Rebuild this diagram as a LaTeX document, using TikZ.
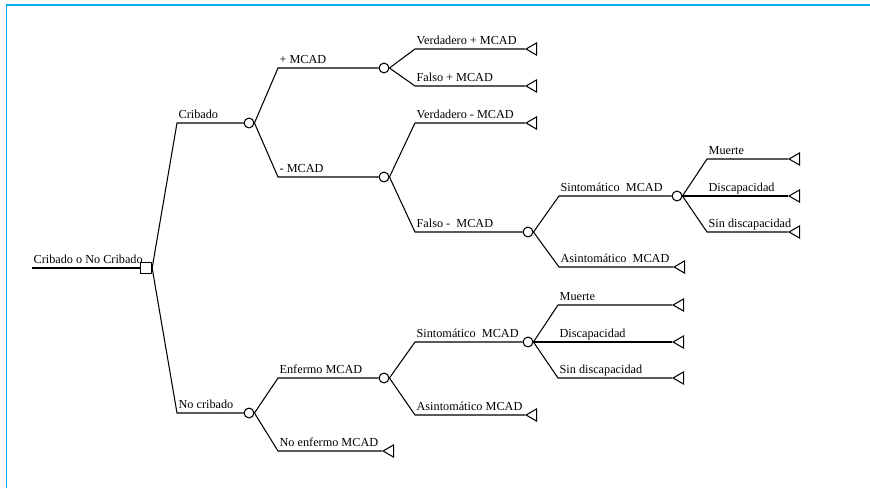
\documentclass[tikz,border=0pt]{standalone}
\usepackage{fontspec}
\setmainfont{Liberation Serif}
\usetikzlibrary{shapes.geometric}
\definecolor{frameblue}{RGB}{0,174,239}

\begin{document}
\begin{tikzpicture}[x=0.025cm, y=-0.025cm, line width=0.75pt,
    chance/.style={circle, draw, fill=white, inner sep=0pt, minimum size=7pt},
    decision/.style={rectangle, draw, fill=white, inner sep=0pt, minimum width=8pt, minimum height=7.2pt},
    terminal/.style={isosceles triangle, shape border rotate=180, draw, inner sep=0pt,
                     isosceles triangle apex angle=60, minimum size=7.5pt, anchor=apex},
    lbl/.style={anchor=base west, inner sep=0pt, xshift=0.8pt, yshift=3.4pt,
                font=\fontsize{8.7}{10}\selectfont}]
      \useasboundingbox (0,0) rectangle (870,488);

      % Draw the frame
      \draw[frameblue, line width=1.1pt] (6.5,488) -- (6.5,5) -- (870,5);

      % Decision and chance nodes
      \coordinate (start) at (32,268);
      \node[decision] (dec) at (146,268) {};
      \node[chance] (cC) at (249,123) {};
      \node[chance] (cN) at (249,413) {};
      \node[chance] (cP) at (384,68) {};
      \node[chance] (cM) at (384,177) {};
      \node[chance] (cFM) at (528,232) {};
      \node[chance] (cS1) at (677,196) {};
      \node[chance] (cE) at (384,378) {};
      \node[chance] (cS2) at (528,342) {};

      % Terminal nodes
      \node[terminal] (tVP) at (525,49) {};
      \node[terminal] (tFP) at (525,86) {};
      \node[terminal] (tVM) at (525,123) {};
      \node[terminal] (tA1) at (673,267) {};
      \node[terminal] (tM1) at (788,159) {};
      \node[terminal] (tD1) at (788,196) {};
      \node[terminal] (tS1) at (788,232) {};
      \node[terminal] (tNE) at (382,451) {};
      \node[terminal] (tA2) at (525,415) {};
      \node[terminal] (tM2) at (672,305) {};
      \node[terminal] (tD2) at (672,342) {};
      \node[terminal] (tS2) at (672,378) {};

      % Root branch
      \draw (start) node[lbl] {Cribado o No Cribado} -- (dec);
      \draw (dec.east) -- (177,123) node[lbl] {Cribado} -- (cC);
      \draw (dec.east) -- (177,413) node[lbl] {No cribado} -- (cN);

      % Cribado
      \draw (cC.east) -- (278,68) node[lbl] {+ MCAD} -- (cP);
      \draw (cC.east) -- (278,177) node[lbl] {- MCAD} -- (cM);
      \draw (cP.east) -- (415,49) node[lbl] {Verdadero + MCAD} -- (tVP);
      \draw (cP.east) -- (415,86) node[lbl] {Falso + MCAD} -- (tFP);
      \draw (cM.east) -- (415,123) node[lbl] {Verdadero - MCAD} -- (tVM);
      \draw (cM.east) -- (415,232) node[lbl] {Falso -\ \ MCAD} -- (cFM);
      \draw (cFM.east) -- (559,196) node[lbl] {Sintomático\ \ MCAD} -- (cS1);
      \draw (cFM.east) -- (559,267) node[lbl] {Asintomático\ \ MCAD} -- (tA1);
      \draw (cS1.east) -- (707,159) node[lbl] {Muerte} -- (tM1);
      \draw (cS1.east) -- (707,196) node[lbl] {Discapacidad} -- (tD1);
      \draw (cS1.east) -- (707,232) node[lbl] {Sin discapacidad} -- (tS1);

      % No cribado
      \draw (cN.east) -- (278,378) node[lbl] {Enfermo MCAD} -- (cE);
      \draw (cN.east) -- (278,451) node[lbl] {No enfermo MCAD} -- (tNE);
      \draw (cE.east) -- (415,342) node[lbl] {Sintomático\ \ MCAD} -- (cS2);
      \draw (cE.east) -- (415,415) node[lbl] {Asintomático MCAD} -- (tA2);
      \draw (cS2.east) -- (558,305) node[lbl] {Muerte} -- (tM2);
      \draw (cS2.east) -- (558,342) node[lbl] {Discapacidad} -- (tD2);
      \draw (cS2.east) -- (558,378) node[lbl] {Sin discapacidad} -- (tS2);
  \end{tikzpicture}
\end{document}
